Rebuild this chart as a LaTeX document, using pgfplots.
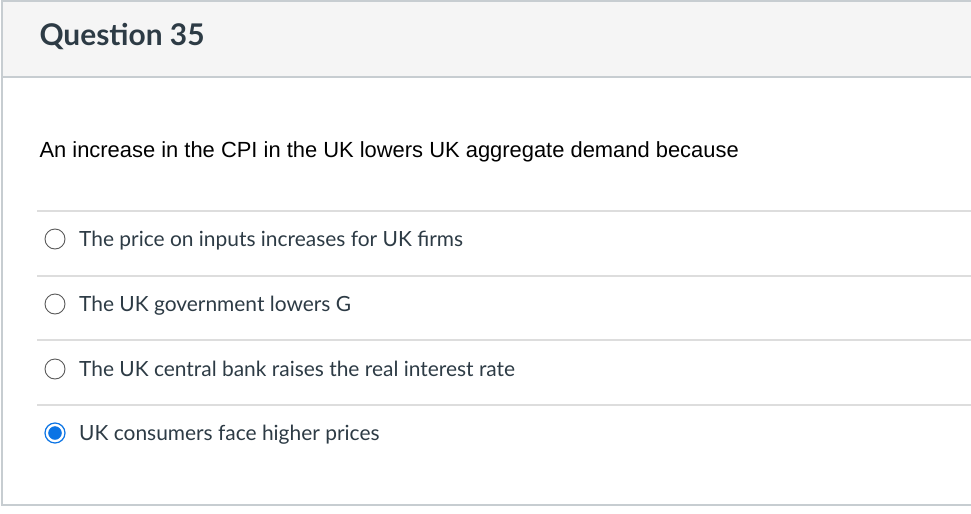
\documentclass[border=0pt]{standalone}
\usepackage{pgfplots}
\pgfplotsset{compat=1.18}
\usepackage{fontspec}
\setmainfont{Lato}
\newfontfamily\arial{Liberation Sans}
\definecolor{txt}{HTML}{2D3B45}
\definecolor{hdr}{HTML}{F5F5F5}
\definecolor{brd}{HTML}{C7CDD1}
\definecolor{sep}{HTML}{DDDDDD}
\definecolor{blue}{HTML}{0B74E5}
\begin{document}
\begin{tikzpicture}
\begin{axis}[scale only axis, width=971bp, height=514bp,
  xmin=0, xmax=971, ymin=0, ymax=514, y dir=reverse,
  axis lines=none, clip=true]
\fill[white] (axis cs:0,0) rectangle (axis cs:971,514);
\fill[hdr] (axis cs:2,1) rectangle (axis cs:971,77);
\draw[brd, line width=1.5pt] (axis cs:2,1) -- (axis cs:971,1);
\draw[brd, line width=1.5pt] (axis cs:2,77) -- (axis cs:971,77);
\draw[brd, line width=1.5pt] (axis cs:2,0) -- (axis cs:2,505) -- (axis cs:971,505);
\node[anchor=base west, text=txt, font=\fontsize{30}{32}\selectfont\bfseries] at (axis cs:36,46) {Question 35};
\node[anchor=base west, text=black, font=\arial\fontsize{22}{24}\selectfont] at (axis cs:36,157) {An increase in the CPI in the UK lowers UK aggregate demand because};
\draw[sep, line width=1.2pt] (axis cs:37,211) -- (axis cs:971,211);
\draw[sep, line width=1.2pt] (axis cs:37,276) -- (axis cs:971,276);
\draw[sep, line width=1.2pt] (axis cs:37,340) -- (axis cs:971,340);
\draw[sep, line width=1.2pt] (axis cs:37,405) -- (axis cs:971,405);
\addplot[only marks, mark=o, mark size=10bp, mark options={draw=gray!70!black, line width=0.9pt}] coordinates {(55,239) (55,304) (55,369)};
\addplot[only marks, mark=*, mark size=10bp, mark options={draw=blue, fill=white, line width=1.2pt}] coordinates {(55,433)};
\addplot[only marks, mark=*, mark size=6.5bp, mark options={draw=blue, fill=blue}] coordinates {(55,433)};
\node[anchor=base west, text=txt, font=\fontsize{21}{23}\selectfont, inner sep=0pt] at (axis cs:79,246) {The price on inputs increases for UK firms};
\node[anchor=base west, text=txt, font=\fontsize{21}{23}\selectfont, inner sep=0pt] at (axis cs:79,311) {The UK government lowers G};
\node[anchor=base west, text=txt, font=\fontsize{21}{23}\selectfont, inner sep=0pt] at (axis cs:79,376) {The UK central bank raises the real interest rate};
\node[anchor=base west, text=txt, font=\fontsize{21}{23}\selectfont, inner sep=0pt] at (axis cs:79,440) {UK consumers face higher prices};
\end{axis}
\end{tikzpicture}
\end{document}
